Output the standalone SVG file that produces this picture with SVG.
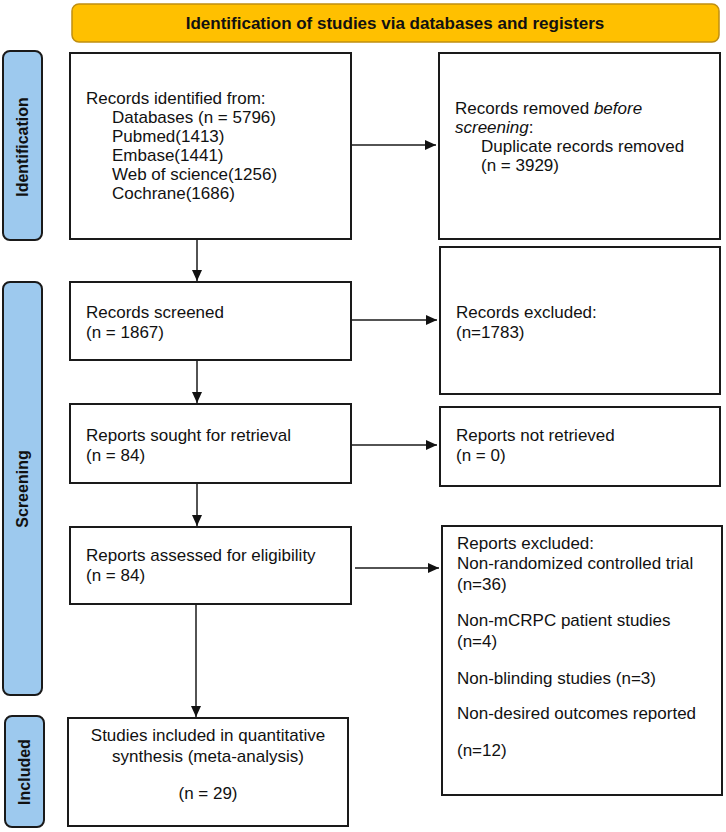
<svg xmlns="http://www.w3.org/2000/svg" width="726" height="832" viewBox="0 0 726 832">
<defs>
<style>
.box{fill:#fff;stroke:#1a1a1a;stroke-width:2}
.side{fill:#9dc9ee;stroke:#1a1a1a;stroke-width:2}
.t{font-family:"Liberation Sans",Arial,sans-serif;font-size:17px;fill:#111}
.sl{font-family:"Liberation Sans",Arial,sans-serif;font-size:16px;font-weight:bold;fill:#111}
.hd{font-family:"Liberation Sans",Arial,sans-serif;font-size:17px;font-weight:bold;fill:#111}
.c{stroke:#1a1a1a;stroke-width:1.5;fill:none;marker-end:url(#ah)}
</style>
<marker id="ah" markerWidth="12" markerHeight="10" refX="11" refY="5" orient="auto" markerUnits="userSpaceOnUse">
<path d="M0,0 L11,5 L0,10 Z" fill="#111"/>
</marker>
</defs>
<rect width="726" height="832" fill="#fff"/>
<g id="header">
<rect x="72" y="4" width="647" height="38" rx="7" fill="#ffc000" stroke="#c08f10" stroke-width="1.5"/>
<text class="hd" x="395" y="29" text-anchor="middle">Identification of studies via databases and registers</text>
</g>
<g id="lane-identification">
<rect class="side" x="3" y="51" width="39" height="189" rx="7"/>
<text class="sl" transform="translate(28,147) rotate(-90)" text-anchor="middle">Identification</text>
</g>
<g id="lane-screening">
<rect class="side" x="3" y="282" width="39" height="413" rx="7"/>
<text class="sl" transform="translate(28,489) rotate(-90)" text-anchor="middle">Screening</text>
</g>
<g id="lane-included">
<rect class="side" x="5" y="716" width="39" height="111" rx="7"/>
<text class="sl" transform="translate(30,772) rotate(-90)" text-anchor="middle">Included</text>
</g>
<g id="records-identified">
<rect class="box" x="70" y="53" width="281" height="186"/>
<text class="t" x="86" y="104">Records identified from:</text>
<text class="t" x="112" y="123">Databases (n = 5796)</text>
<text class="t" x="112" y="142">Pubmed(1413)</text>
<text class="t" x="112" y="161">Embase(1441)</text>
<text class="t" x="112" y="180">Web of science(1256)</text>
<text class="t" x="112" y="199">Cochrane(1686)</text>
</g>
<g id="records-removed">
<rect class="box" x="439" y="53" width="281" height="186"/>
<text class="t" x="455" y="114">Records removed <tspan font-style="italic">before</tspan></text>
<text class="t" x="455" y="133"><tspan font-style="italic">screening</tspan>:</text>
<text class="t" x="481" y="152">Duplicate records removed</text>
<text class="t" x="481" y="171">(n = 3929)</text>
</g>
<g id="records-screened">
<rect class="box" x="70" y="282" width="281" height="78"/>
<text class="t" x="86" y="318">Records screened</text>
<text class="t" x="86" y="338">(n = 1867)</text>
</g>
<g id="records-excluded">
<rect class="box" x="440" y="247" width="280" height="147"/>
<text class="t" x="456" y="318">Records excluded:</text>
<text class="t" x="456" y="338">(n=1783)</text>
</g>
<g id="reports-sought">
<rect class="box" x="70" y="404" width="281" height="79"/>
<text class="t" x="86" y="441">Reports sought for retrieval</text>
<text class="t" x="86" y="461">(n = 84)</text>
</g>
<g id="reports-not-retrieved">
<rect class="box" x="440" y="407" width="280" height="79"/>
<text class="t" x="456" y="441">Reports not retrieved</text>
<text class="t" x="456" y="461">(n = 0)</text>
</g>
<g id="reports-assessed">
<rect class="box" x="70" y="527" width="281" height="77"/>
<text class="t" x="86" y="561">Reports assessed for eligibility</text>
<text class="t" x="86" y="581">(n = 84)</text>
</g>
<g id="reports-excluded">
<rect class="box" x="442" y="526" width="280" height="269"/>
<text class="t" x="457" y="549">Reports excluded:</text>
<text class="t" x="457" y="569">Non-randomized controlled trial</text>
<text class="t" x="457" y="590">(n=36)</text>
<text class="t" x="457" y="626">Non-mCRPC patient studies</text>
<text class="t" x="457" y="647">(n=4)</text>
<text class="t" x="457" y="684">Non-blinding studies (n=3)</text>
<text class="t" x="457" y="719">Non-desired outcomes reported</text>
<text class="t" x="457" y="756">(n=12)</text>
</g>
<g id="studies-included">
<rect class="box" x="68" y="718" width="280" height="108"/>
<text class="t" x="208" y="741" text-anchor="middle">Studies included in quantitative</text>
<text class="t" x="208" y="762" text-anchor="middle">synthesis (meta-analysis)</text>
<text class="t" x="208" y="799" text-anchor="middle">(n = 29)</text>
</g>
<g id="connectors">
<line class="c" x1="351" y1="145" x2="436" y2="145"/>
<line class="c" x1="197" y1="239" x2="197" y2="281"/>
<line class="c" x1="351" y1="320" x2="437" y2="320"/>
<line class="c" x1="197" y1="360" x2="197" y2="403"/>
<line class="c" x1="351" y1="445" x2="437" y2="445"/>
<line class="c" x1="197" y1="483" x2="197" y2="526"/>
<line class="c" x1="355" y1="568" x2="439" y2="568"/>
<line class="c" x1="196" y1="604" x2="196" y2="717"/>
</g>
</svg>
